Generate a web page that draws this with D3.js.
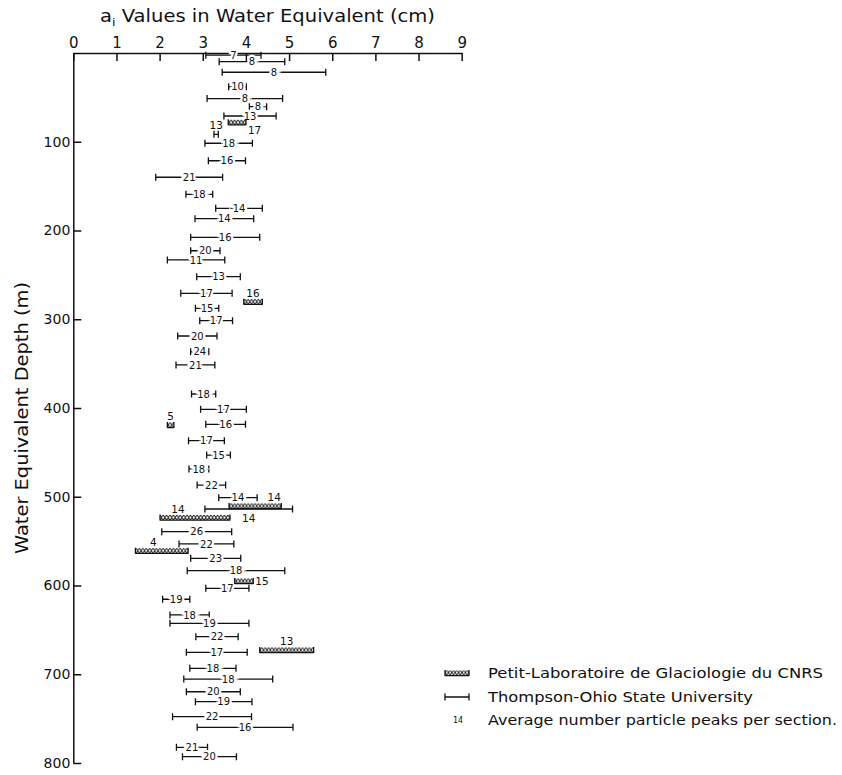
<!DOCTYPE html>
<html>
<head>
    <meta charset="utf-8">
    <title>Particle peaks vs depth</title>
    <script src="https://d3js.org/d3.v7.min.js"></script>
    <style>
        body { margin: 0; background: #fff; }
        text { font-family: "DejaVu Sans", sans-serif; fill: #111; }
        .axis path, .axis line { stroke: #111; stroke-width: 1.5; fill: none; }
        .axis text { font-family: "DejaVu Sans", sans-serif; font-size: 14px; fill: #111; }
        .bar { stroke: #111; stroke-width: 1.3; fill: none; }
        .lbl { font-size: 10px; paint-order: stroke; stroke: #fff; stroke-width: 4.5px; }
        .lbl2 { font-size: 10.5px; }
    </style>
</head>
<body>
    <svg id="chart" width="842" height="775"></svg>

    <script>
        // Thompson - Ohio State University : depth (m), low / high a_i (cm), peaks count
        var tDepth = [2.5, 9.8, 21.7, 38, 51.3, 60.5, 71, 91.6, 101.7, 121.4, 140, 159.2, 175, 186.7, 207.7,
                      222.8, 233.2, 252, 270.8, 287.7, 301.6, 318.9, 336.6, 351.5, 384.2, 401.5, 418.4, 436.8,
                      453, 468.7, 486.8, 501, 513.8, 539.4, 553.2, 569.4, 583.3, 603.2, 615.5, 633.2, 642.6,
                      657.7, 675.3, 693.3, 705.4, 719.7, 730.9, 747.8, 759.8, 782.3, 792.9];
        var tLow   = [3.07, 3.38, 3.45, 3.60, 3.10, 4.08, 3.49, 3.26, 3.05, 3.13, 1.91, 2.61, 3.30, 2.82, 2.72,
                      2.72, 2.18, 2.86, 2.49, 2.83, 2.93, 2.42, 2.72, 2.38, 2.74, 2.95, 3.07, 2.67,
                      3.09, 2.68, 2.87, 3.37, 3.05, 2.05, 2.45, 2.72, 2.64, 3.07, 2.07, 2.24, 2.24,
                      2.84, 2.62, 2.70, 2.56, 2.62, 2.83, 2.30, 2.87, 2.39, 2.53];
        var tHigh  = [4.35, 4.90, 5.85, 4.01, 4.85, 4.48, 4.70, 3.36, 4.15, 3.99, 3.46, 3.23, 4.38, 4.18, 4.32,
                      3.40, 3.51, 3.87, 3.68, 3.37, 3.69, 3.33, 3.14, 3.28, 3.30, 4.01, 3.99, 3.50,
                      3.64, 3.14, 3.53, 4.26, 5.08, 3.67, 3.72, 3.88, 4.90, 4.07, 2.70, 3.15, 4.07,
                      3.82, 4.03, 3.77, 4.62, 3.87, 4.14, 4.13, 5.09, 3.11, 3.78];
        var tPeaks = [7, 8, 8, 10, 8, 8, 13, 13, 18, 16, 21, 18, 14, 14, 16,
                      20, 11, 13, 17, 15, 17, 20, 24, 21, 18, 17, 16, 17,
                      15, 18, 22, 14, 14, 26, 22, 23, 18, 17, 19, 18, 19,
                      22, 17, 18, 18, 20, 19, 22, 16, 21, 20];

        // Petit - Laboratoire de Glaciologie du CNRS
        var pDepth = [78.1, 280.2, 419.2, 510.4, 523.4, 560.8, 595, 672.7];
        var pLow   = [3.59, 3.95, 2.18, 3.61, 2.01, 1.44, 3.74, 4.32];
        var pHigh  = [4.00, 4.38, 2.33, 4.82, 3.63, 2.66, 4.17, 5.57];
        var pPeaks = [17, 16, 5, 14, 14, 4, 15, 13];

        var xTicks = [0, 1, 2, 3, 4, 5, 6, 7, 8, 9];
        var yTicks = [100, 200, 300, 400, 500, 600, 700, 800];

        var x = d3.scaleLinear().domain([0, 9]).range([73.3, 461.7]);
        var y = d3.scaleLinear().domain([0, 800]).range([53, 763]);

        var svg = d3.select("#chart");

        // hatch pattern for the CNRS bars
        var defs = svg.append("defs");
        var pat = defs.append("pattern")
            .attr("id", "hatch")
            .attr("patternUnits", "userSpaceOnUse")
            .attr("width", 3.4).attr("height", 5)
            .attr("y", -2.5);
        pat.append("path")
            .attr("d", "M0,0L3.4,5M3.4,0L0,5")
            .attr("stroke", "#111").attr("stroke-width", 0.9);

        // axes
        svg.append("g")
            .attr("class", "axis")
            .attr("transform", "translate(0," + y(0) + ")")
            .call(d3.axisTop(x).tickValues(xTicks).tickSizeInner(-8).tickSizeOuter(0).tickPadding(5)
                .tickFormat(d3.format("d")))
            .selectAll("text").style("font-size", "15px");

        svg.append("g")
            .attr("class", "axis")
            .attr("transform", "translate(" + x(0) + ",0)")
            .call(d3.axisLeft(y).tickValues(yTicks).tickSizeInner(-8).tickSizeOuter(0).tickPadding(3)
                .tickFormat(d3.format("d")));

        // titles
        var title = svg.append("text")
            .attr("x", 100).attr("y", 22)
            .attr("textLength", 335).attr("lengthAdjust", "spacingAndGlyphs")
            .style("font-size", "17px");
        title.append("tspan").text("a");
        title.append("tspan").attr("dy", 4).style("font-size", "11px").text("i");
        title.append("tspan").attr("dy", -4).text(" Values in Water Equivalent (cm)");

        svg.append("text")
            .attr("transform", "translate(28,418) rotate(-90)")
            .attr("text-anchor", "middle")
            .attr("textLength", 272).attr("lengthAdjust", "spacingAndGlyphs")
            .style("font-size", "17px")
            .text("Water Equivalent Depth (m)");

        // Thompson bars
        var tData = tDepth.map(function(d, i) {
            return {depth: d, lo: tLow[i], hi: tHigh[i], n: tPeaks[i], i: i};
        });
        var tLabelSide = {7: "above", 32: "below"};

        var tg = svg.append("g").selectAll("g")
            .data(tData)
            .enter().append("g")
            .attr("transform", function(d) { return "translate(0," + y(d.depth) + ")"; });

        tg.append("path")
            .attr("class", "bar")
            .attr("d", function(d) {
                var a = x(d.lo), b = x(d.hi);
                return "M" + a + ",-3.5V3.5M" + a + ",0H" + b + "M" + b + ",-3.5V3.5";
            });

        tg.append("text")
            .attr("class", function(d) { return tLabelSide[d.i] ? "lbl2" : "lbl"; })
            .attr("text-anchor", "middle")
            .attr("x", function(d) { return (x(d.lo) + x(d.hi)) / 2; })
            .attr("y", function(d) {
                var s = tLabelSide[d.i];
                return s === "above" ? -5 : s === "below" ? 13 : 3.6;
            })
            .text(function(d) { return d.n; });

        // CNRS bars
        var pData = pDepth.map(function(d, i) {
            return {depth: d, lo: pLow[i], hi: pHigh[i], n: pPeaks[i], i: i};
        });
        var pLabelSide = ["belowRight", "above", "above", "aboveRight", "aboveLeft", "aboveLeft", "right", "above"];

        var pg = svg.append("g").selectAll("g")
            .data(pData)
            .enter().append("g")
            .attr("transform", function(d) { return "translate(0," + y(d.depth) + ")"; });

        pg.append("rect")
            .attr("x", function(d) { return x(d.lo); })
            .attr("y", -2.5)
            .attr("width", function(d) { return x(d.hi) - x(d.lo); })
            .attr("height", 5)
            .attr("fill", "url(#hatch)");

        pg.append("path")
            .attr("class", "bar")
            .attr("d", function(d) {
                var a = x(d.lo), b = x(d.hi);
                return "M" + a + ",-3V3M" + a + ",2.6H" + b + "M" + b + ",-3V3";
            });

        pg.append("text")
            .attr("class", "lbl2")
            .attr("text-anchor", function(d) {
                var s = pLabelSide[d.i];
                return s === "right" || s === "belowRight" ? "start" : "middle";
            })
            .attr("x", function(d) {
                var s = pLabelSide[d.i];
                if (s === "aboveLeft") return x(d.lo) + 18;
                if (s === "aboveRight") return x(d.hi) - 7;
                if (s === "right" || s === "belowRight") return x(d.hi) + 2;
                return (x(d.lo) + x(d.hi)) / 2;
            })
            .attr("y", function(d) {
                var s = pLabelSide[d.i];
                if (s === "right") return 4;
                if (s === "belowRight") return 11.5;
                return -5;
            })
            .text(function(d) { return d.n; });

        // legend
        var leg = svg.append("g").attr("transform", "translate(445,0)");
        leg.append("rect").attr("x", 0).attr("y", 670.5).attr("width", 24).attr("height", 5).attr("fill", "url(#hatch)");
        leg.append("path").attr("class", "bar").attr("d", "M0,670V676M0,675.6H24M24,670V676");
        leg.append("path").attr("class", "bar").attr("d", "M0,693.5V700.5M0,697H24M24,693.5V700.5");
        leg.append("text").attr("x", 8).attr("y", 723).style("font-size", "8px").text("14");

        var legText = [
            ["Petit-Laboratoire de Glaciologie du CNRS", 678, 335],
            ["Thompson-Ohio State University", 702, 265],
            ["Average number particle peaks per section.", 725, 349]
        ];
        leg.selectAll(".legt")
            .data(legText)
            .enter().append("text")
            .attr("class", "legt")
            .attr("x", 43)
            .attr("y", function(d) { return d[1]; })
            .attr("textLength", function(d) { return d[2]; })
            .attr("lengthAdjust", "spacingAndGlyphs")
            .style("font-size", "14px")
            .text(function(d) { return d[0]; });
    </script>
</body>
</html>
